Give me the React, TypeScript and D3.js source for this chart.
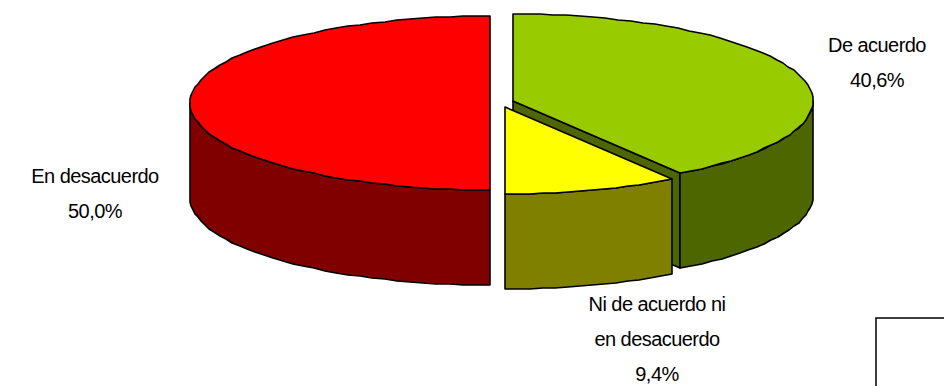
import React from 'react';
import * as d3 from 'd3';

const categories = ['De acuerdo', 'Ni de acuerdo ni en desacuerdo', 'En desacuerdo'];
const values = [40.6, 9.4, 50.0];
const topColors = ['#99CC00', '#FFFF00', '#FF0000'];
const sideColors = ['#4D6600', '#808000', '#800000'];
const labelLines = [
  ['De acuerdo', '40,6%'],
  ['Ni de acuerdo ni', 'en desacuerdo', '9,4%'],
  ['En desacuerdo', '50,0%'],
];

const width = 944;
const height = 386;
const rx = 300;
const ry = 87;
const depth = 95;
// each slice is pulled out of the pie, so each has its own centre
const centers = [[513, 101], [505, 107], [490, 103]];
const labelPos = [[877, 52], [657, 311], [95, 183]];
const lineHeight = 35;

type P = [number, number];

const pie = d3.pie<number>().sort(null).value(d => d);
const slices = pie(values);
const line = d3.line();

// the 3d look is just an ellipse, so project the pie angle by hand
function project(i: number, a: number, dy = 0): P {
  const [cx, cy] = centers[i];
  return [Math.round(cx + rx * Math.sin(a)), Math.round(cy - ry * Math.cos(a) + dy)];
}

function arcPoints(i: number, a0: number, a1: number, dy = 0): P[] {
  const n = Math.max(2, Math.ceil((a1 - a0) / 0.045));
  return d3.range(n + 1).map(k => project(i, a0 + ((a1 - a0) * k) / n, dy));
}

function topPath(i: number) {
  const s = slices[i];
  const c = centers[i] as P;
  return line([c, ...arcPoints(i, s.startAngle, s.endAngle)]) + 'Z';
}

// outer wall, only the part facing the viewer (pi/2 .. 3pi/2)
function wallPath(i: number) {
  const s = slices[i];
  const a0 = Math.max(s.startAngle, Math.PI / 2);
  const a1 = Math.min(s.endAngle, (3 * Math.PI) / 2);
  return line([...arcPoints(i, a0, a1), ...arcPoints(i, a0, a1, depth).reverse()]) + 'Z';
}

// cut face along the end of a slice
function facePath(i: number, a: number) {
  const [cx, cy] = centers[i];
  const tip = project(i, a);
  return line([[cx, cy], tip, [tip[0], tip[1] + depth], [cx, cy + depth]]) + 'Z';
}

const order = [2, 0, 1];

export default function App() {
  return (
    <svg
      width={width}
      height={height}
      viewBox={`0 0 ${width} ${height}`}
      style={{ position: 'absolute', left: 0, top: 0, display: 'block', background: '#fff' }}
    >
      <g stroke="#000" strokeWidth={1.6} strokeLinejoin="round">
        {order.map(i => (
          <g key={categories[i]}>
            {i === 0 && <path d={facePath(0, slices[0].endAngle)} fill={sideColors[0]} />}
            <path d={wallPath(i)} fill={sideColors[i]} />
            <path d={topPath(i)} fill={topColors[i]} />
          </g>
        ))}
      </g>
      <g fontFamily="'Liberation Sans', Arial, sans-serif" fontSize={20} letterSpacing={-0.55} fill="#000" textAnchor="middle">
        {labelLines.map((lines, i) => (
          <text key={i} x={labelPos[i][0]} y={labelPos[i][1]}>
            {lines.map((t, j) => (
              <tspan key={t} x={labelPos[i][0]} y={labelPos[i][1] + j * lineHeight}>{t}</tspan>
            ))}
          </text>
        ))}
      </g>
      <rect x={876} y={318} width={200} height={200} fill="#fff" stroke="#000" strokeWidth={1.5} />
    </svg>
  );
}
